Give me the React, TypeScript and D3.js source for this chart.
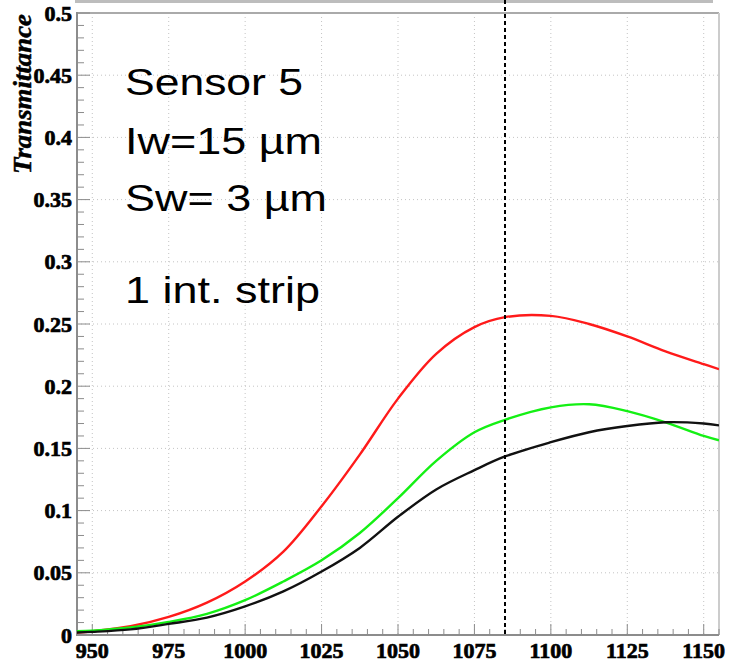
import * as d3 from 'd3'

// wavelength (nm) sampled along the three curves
const wavelengths = [945, 950, 962.5, 975, 987.5, 1000, 1012.5, 1025, 1037.5, 1050, 1062.5, 1075, 1085, 1100, 1112.5, 1125, 1137.5, 1150, 1155]
const redSeries = [0.002, 0.003, 0.007, 0.0145, 0.026, 0.043, 0.067, 0.1035, 0.145, 0.19, 0.226, 0.2475, 0.2555, 0.2565, 0.25, 0.24, 0.228, 0.2177, 0.2137]
const greenSeries = [0.003, 0.0035, 0.006, 0.0105, 0.017, 0.028, 0.043, 0.06, 0.082, 0.11, 0.14, 0.163, 0.173, 0.183, 0.1855, 0.18, 0.171, 0.16, 0.1565]
const blackSeries = [0.002, 0.0025, 0.0045, 0.0089, 0.014, 0.023, 0.035, 0.051, 0.07, 0.095, 0.117, 0.1325, 0.1435, 0.155, 0.163, 0.168, 0.171, 0.17, 0.1685]

const xTicks = [950, 975, 1000, 1025, 1050, 1075, 1100, 1125, 1150]
const yTicks = [0, 0.05, 0.1, 0.15, 0.2, 0.25, 0.3, 0.35, 0.4, 0.45, 0.5]
const markerWavelength = 1085

const notes = [
  { text: 'Sensor 5', y: 95, len: 178 },
  { text: 'Iw=15 µm', y: 154, len: 197 },
  { text: 'Sw= 3 µm', y: 211, len: 202 },
  { text: '1 int. strip', y: 303, len: 195 },
]

const series = [
  { name: 'red', color: '#ff1a1a', values: redSeries },
  { name: 'green', color: '#14f014', values: greenSeries },
  { name: 'black', color: '#111111', values: blackSeries },
]

const W = 734
const H = 663
const left = 77, right = 719, top = 13, bottom = 635

export default function App() {
  const x = d3.scaleLinear().domain([945, 1155]).range([left, right])
  const y = d3.scaleLinear().domain([0, 0.5]).range([bottom, top])

  const line = (vals: number[]) =>
    d3.line<number>()
      .x((_, i) => x(wavelengths[i]))
      .y((d) => y(d))
      .curve(d3.curveCatmullRom.alpha(0.5))(vals) as string

  const xMinor = d3.range(950, 1155.01, 5)
  const yMinor = d3.range(0, 0.5001, 0.01)
  const fmt = (d: number) => (d === 0 ? '0' : String(+d.toFixed(2)))

  return (
    <svg width={W} height={H} style={{ position: 'absolute', left: 0, top: 0, background: '#fff' }}>
      <defs>
        <clipPath id="page">
          <rect x={0} y={0} width={726} height={H} />
        </clipPath>
        <clipPath id="plot">
          <rect x={left} y={top} width={right - left} height={bottom - top} />
        </clipPath>
      </defs>

      {/* stray frame from the panel above */}
      <rect x={75} y={0} width={638} height={3} fill="#bdbdbd" />

      {/* grid */}
      <g stroke="#c4c4c4" strokeWidth={1} strokeDasharray="1,3">
        {xTicks.map((t) => (
          <line key={'gx' + t} x1={x(t)} x2={x(t)} y1={top} y2={bottom} />
        ))}
        {yTicks.map((t) => (
          <line key={'gy' + t} x1={left} x2={right} y1={y(t)} y2={y(t)} />
        ))}
      </g>

      {/* frame */}
      <line x1={left} x2={right} y1={top} y2={top} stroke="#aaaaaa" strokeWidth={2} />
      <line x1={right} x2={right} y1={top} y2={bottom} stroke="#cccccc" strokeWidth={2} />
      <line x1={left} x2={left} y1={top - 1} y2={bottom + 1} stroke="#8c8c8c" strokeWidth={2} />
      <line x1={left} x2={right} y1={bottom} y2={bottom} stroke="#8c8c8c" strokeWidth={2} />

      {/* ticks */}
      <g stroke="#8c8c8c" strokeWidth={1}>
        {yMinor.map((t, i) => (
          <line key={'ty' + i} x1={left} x2={left + (i % 5 === 0 ? 13 : 7)} y1={y(t)} y2={y(t)} />
        ))}
        {xMinor.map((t, i) => (
          <line key={'tx' + i} x1={x(t)} x2={x(t)} y1={bottom} y2={bottom - (i % 5 === 0 ? 11 : 6)} />
        ))}
      </g>

      {/* tick labels */}
      <g
        fontFamily="'Liberation Serif', 'DejaVu Serif', serif"
        fontWeight="bold"
        fontSize={22}
        fill="#000"
        stroke="#000"
        strokeWidth={0.7}
      >
        {yTicks.map((t) => (
          <text key={'ly' + t} x={72} y={y(t) + 7.5} textAnchor="end">{fmt(t)}</text>
        ))}
        <g clipPath="url(#page)">
          {xTicks.map((t) => (
            <text key={'lx' + t} x={x(t)} y={658} textAnchor="middle">{t}</text>
          ))}
        </g>
      </g>

      <text
        transform="translate(31,14) rotate(-90)"
        textAnchor="end"
        fontFamily="'Liberation Serif', serif"
        fontWeight="bold"
        fontStyle="italic"
        fontSize={25}
        textLength={160}
        lengthAdjust="spacingAndGlyphs"
        stroke="#000"
        strokeWidth={0.5}
      >
        Transmittance
      </text>

      {/* curves */}
      <g clipPath="url(#plot)" fill="none" strokeWidth={2.4} strokeLinejoin="round">
        {series.map((s) => (
          <path key={s.name} d={line(s.values)} stroke={s.color} />
        ))}
      </g>

      {/* marker line */}
      <line
        x1={x(markerWavelength)} x2={x(markerWavelength)} y1={0} y2={bottom}
        stroke="#000" strokeWidth={2} strokeDasharray="4,3"
      />

      {/* annotation */}
      <g fontFamily="'Liberation Sans', Arial, sans-serif" fontSize={37} fill="#000">
        {notes.map((n) => (
          <text key={n.text} x={125} y={n.y} textLength={n.len} lengthAdjust="spacingAndGlyphs">{n.text}</text>
        ))}
      </g>
    </svg>
  )
}
